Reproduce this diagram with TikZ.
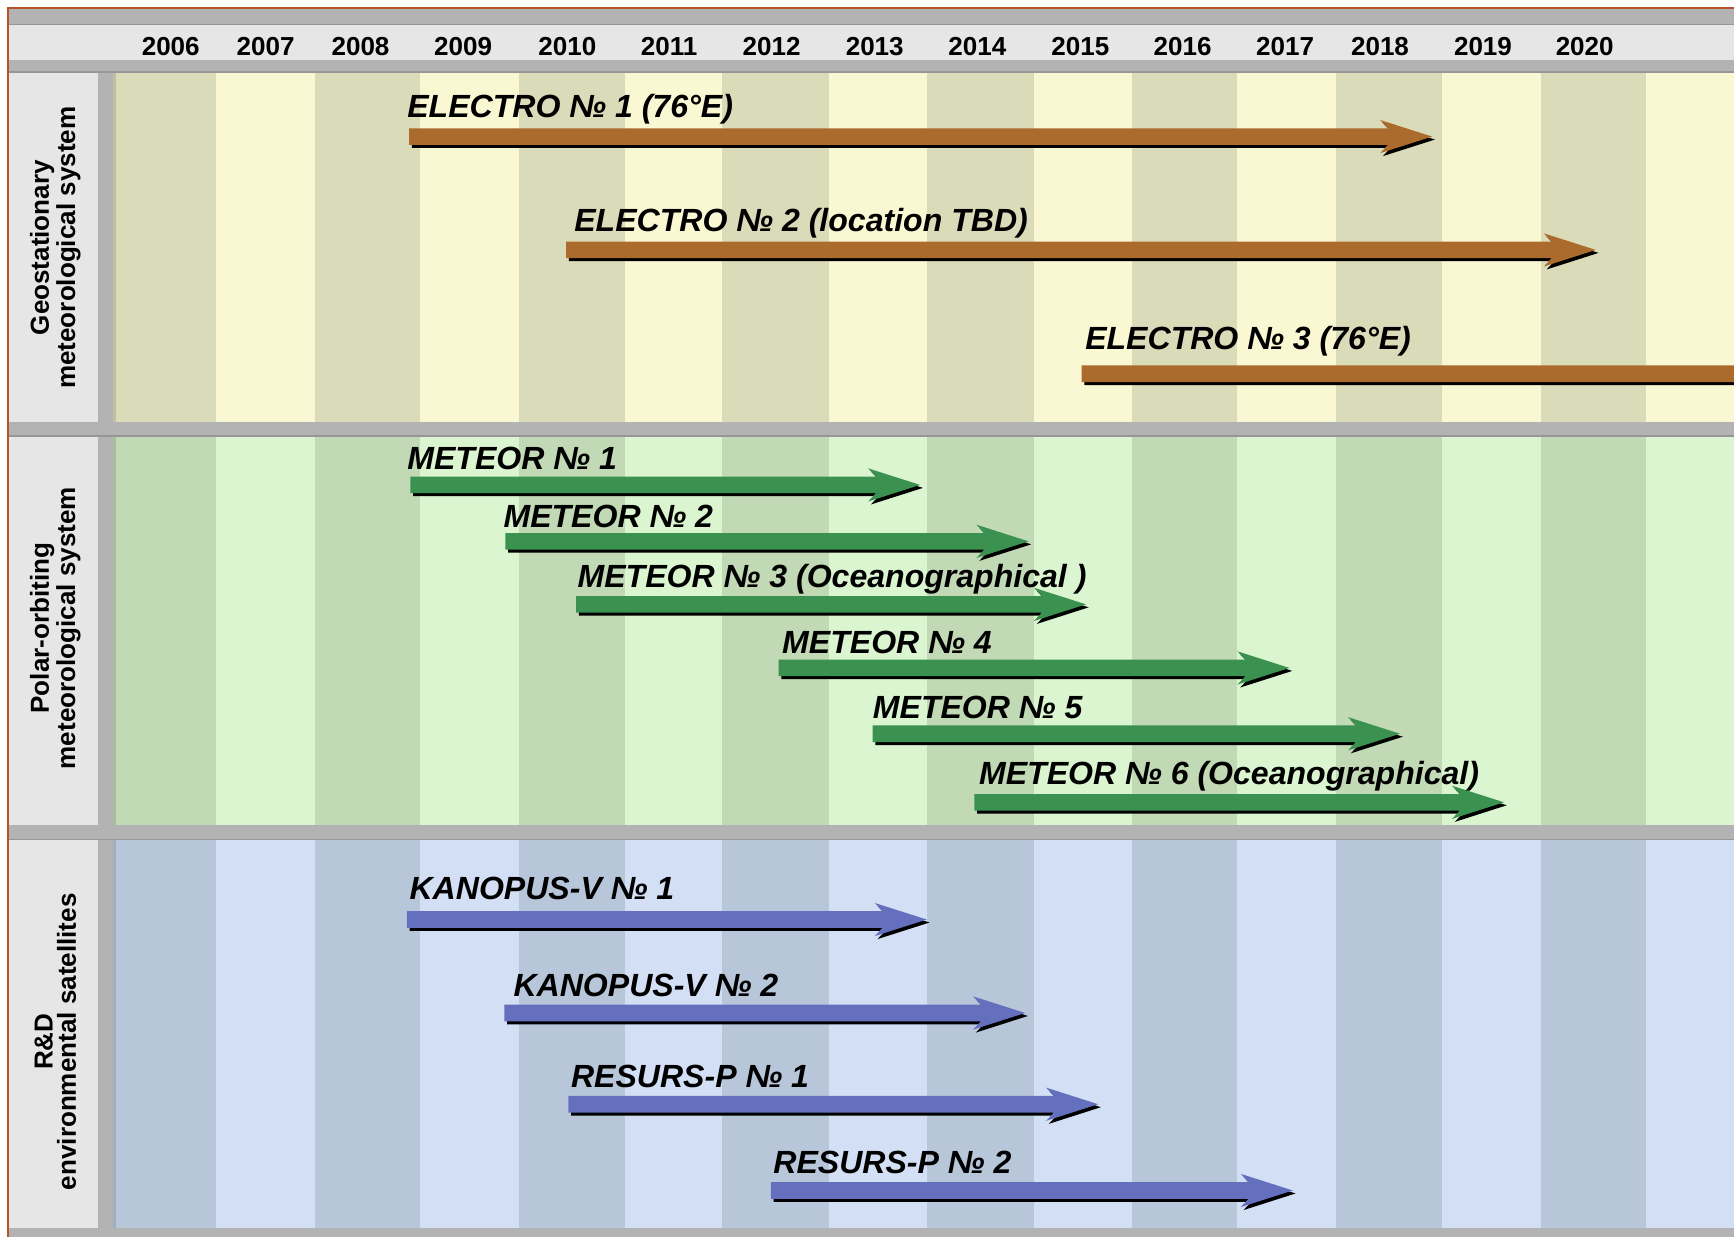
\documentclass[tikz,border=0pt]{standalone}
\usepackage{fontspec}
\setmainfont{Liberation Sans}
\definecolor{geoD}{HTML}{DADBB9}
\definecolor{geoL}{HTML}{FAF7D3}
\definecolor{polD}{HTML}{C1D9B4}
\definecolor{polL}{HTML}{DAF5CF}
\definecolor{rdD}{HTML}{B8C6DA}
\definecolor{rdL}{HTML}{D3DFF5}
\definecolor{lgray}{HTML}{E6E6E6}
\definecolor{mgray}{HTML}{B3B3B3}
\definecolor{sgray}{HTML}{969696}
\definecolor{brownA}{HTML}{AB6B2D}
\definecolor{greenA}{HTML}{3A9150}
\definecolor{blueA}{HTML}{6470BD}
\definecolor{framebrown}{HTML}{B5532A}
\newcommand\satarrow[4]{%
  \begin{scope}[shift={(2.5,2.7)}]
    \fill[black] (#1,#2-7.5) -- (#3-40,#2-7.5) -- (#3-47,#2-15) -- (#3,#2) -- (#3-47,#2+15) -- (#3-40,#2+7.5) -- (#1,#2+7.5) -- cycle;
  \end{scope}
  \fill[#4] (#1,#2-7.5) -- (#3-40,#2-7.5) -- (#3-47,#2-15) -- (#3,#2) -- (#3-47,#2+15) -- (#3-40,#2+7.5) -- (#1,#2+7.5) -- cycle;
}
\newcommand\stripes[4]{% top, bottom, light, dark
  \fill[#3] (102,#1) rectangle (1575,#2);
  \foreach \a/\b in {102/195, 284.5/380, 469/565, 653/749.6, 838.5/934.7, 1023.7/1119, 1208.5/1303.8, 1393.3/1488.6}
    \fill[#4] (\a,#1) rectangle (\b,#2);
  \fill[black, opacity=0.12] (102,#1) rectangle (105,#2);
  \fill[lgray] (8.5,#1) rectangle (89,#2);
}
\begin{document}
\begin{tikzpicture}[x=0.02cm, y=-0.02cm,
  lab/.style={font=\fontsize{16.5}{19}\selectfont\bfseries\itshape, anchor=base west, inner sep=0pt},
  yr/.style={font=\fontsize{13.4}{15}\selectfont\bfseries, anchor=base, inner sep=0pt},
  sec/.style={font=\fontsize{13.4}{12}\selectfont\bfseries, align=center, rotate=90, inner sep=0pt}]
\useasboundingbox (0,0) rectangle (1568,1117.7);
\begin{scope}
\clip (0,0) rectangle (1568,1117.7);
\fill[white] (0,0) rectangle (1568,1117.7);
% gray frame background
\fill[mgray] (7,7) rectangle (1575,1125);
% header
\fill[lgray] (7,23) rectangle (1575,54);
\fill[sgray] (7,21.5) rectangle (1575,23);
\fill[sgray] (7,64.5) rectangle (1575,66);
% sections
\stripes{66}{381.5}{geoL}{geoD}
\stripes{395}{746}{polL}{polD}
\stripes{760}{1110}{rdL}{rdD}
\fill[sgray] (7,393.5) rectangle (1575,395);
\fill[sgray] (7,758.5) rectangle (1575,760);
% frame border
\draw[framebrown, line width=0.9pt] (7,1125) -- (7,7) -- (1575,7);
% years
\foreach \yy/\xx in {2006/154.4, 2007/240.2, 2008/326, 2009/418.8, 2010/513, 2011/605, 2012/697.8, 2013/791, 2014/883.8, 2015/977, 2016/1069.4, 2017/1162, 2018/1247.9, 2019/1341, 2020/1433}
  \node[yr] (y\yy) at (\xx,50) {\yy};
% section labels
\node[sec] (geo) at (50,224) {Geostationary\\meteorological system};
\node[sec] (pol) at (50,568) {Polar-orbiting\\meteorological system};
\node[sec] (rd) at (50,942) {R\&D\\environmental satellites};
% arrows
\satarrow{370}{123.5}{1295}{brownA}
\satarrow{512}{226}{1443}{brownA}
\satarrow{978}{338}{1750}{brownA}
\satarrow{371}{438.5}{832}{greenA}
\satarrow{457}{489.5}{930}{greenA}
\satarrow{521}{546.5}{982}{greenA}
\satarrow{704}{604}{1166}{greenA}
\satarrow{789}{663.5}{1266}{greenA}
\satarrow{881}{725.5}{1360}{greenA}
\satarrow{368}{831.5}{838}{blueA}
\satarrow{456}{916}{927}{blueA}
\satarrow{514}{998.5}{993}{blueA}
\satarrow{697}{1076.5}{1169}{blueA}
% labels
\node[lab] (e1) at (368,106) {ELECTRO № 1 (76°E)};
\node[lab] (e2) at (519,209) {ELECTRO № 2 (location TBD)};
\node[lab] (e3) at (981,316) {ELECTRO № 3 (76°E)};
\node[lab] (m1) at (368,425) {METEOR № 1};
\node[lab] (m2) at (455,477) {METEOR № 2};
\node[lab] (m3) at (522,531) {METEOR № 3 (Oceanographical )};
\node[lab] (m4) at (707,591) {METEOR № 4};
\node[lab] (m5) at (789,650) {METEOR № 5};
\node[lab] (m6) at (885,709) {METEOR № 6 (Oceanographical)};
\node[lab] (k1) at (370,813) {KANOPUS-V № 1};
\node[lab] (k2) at (464,901) {KANOPUS-V № 2};
\node[lab] (r1) at (516,983) {RESURS-P № 1};
\node[lab] (r2) at (699,1061) {RESURS-P № 2};
\end{scope}
\end{tikzpicture}
\end{document}
